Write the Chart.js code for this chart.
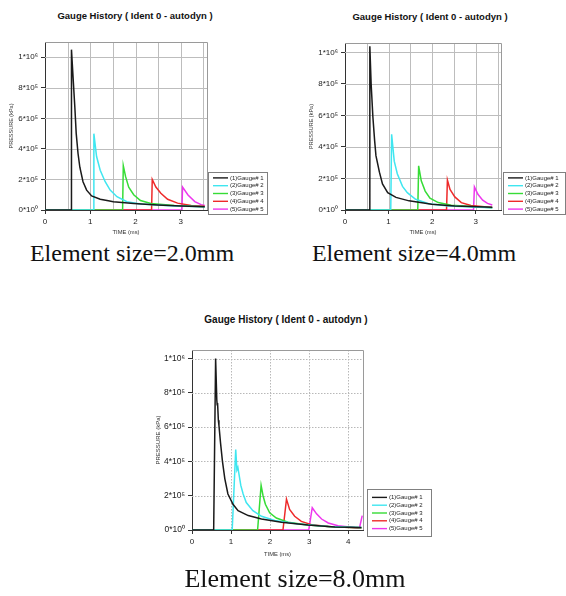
<!DOCTYPE html>
<html>
<head>
<meta charset="utf-8">
<script src="https://cdn.jsdelivr.net/npm/chart.js@4.4.1/dist/chart.umd.min.js"></script>
<style>
body { margin: 0; background: #fff; width: 566px; height: 596px; position: relative; overflow: hidden; }
canvas { position: absolute; }
.ttl { position: absolute; width: 300px; text-align: center; white-space: nowrap; line-height: 1;
       font: bold 9.5px "Liberation Sans", Arial, sans-serif; color: #111; }
.cap { position: absolute; width: 300px; text-align: center; white-space: nowrap; line-height: 1;
       font-family: "Liberation Serif", "Times New Roman", serif; color: #111; }
</style>
</head>
<body>
<div class="ttl" style="left:-15px; top:10px;">Gauge History ( Ident 0 - autodyn )</div>
<div class="ttl" style="left:280px; top:11px;">Gauge History ( Ident 0 - autodyn )</div>
<div class="ttl" style="left:136px; top:314px; font-size:10px;">Gauge History ( Ident 0 - autodyn )</div>

<canvas id="c2mm" width="283" height="210" style="left:0; top:30px;"></canvas>
<canvas id="c4mm" width="266" height="210" style="left:300px; top:30px;"></canvas>
<canvas id="c8mm" width="290" height="235" style="left:147px; top:330px;"></canvas>

<div class="cap" style="left:-18px; top:241px; font-size:24px;">Element size=2.0mm</div>
<div class="cap" style="left:264px; top:241px; font-size:24px;">Element size=4.0mm</div>
<div class="cap" style="left:145px; top:566px; font-size:26px;">Element size=8.0mm</div>

<script>
// gauge histories, [time (ms), pressure (kPa)]
const gauge1_2mm = [[0,0],[0.575,0],[0.585,1.05e6],[0.62,0.87e6],[0.66,0.67e6],[0.69,0.50e6],[0.73,0.37e6],[0.77,0.28e6],[0.84,0.185e6],[0.92,0.13e6],[1.03,0.092e6],[1.22,0.07e6],[1.40,0.06e6],[1.51,0.054e6],[1.96,0.043e6],[2.49,0.033e6],[3.0,0.026e6],[3.53,0.022e6]];
const gauge2_2mm = [[0,0],[1.065,0],[1.08,0.50e6],[1.14,0.35e6],[1.22,0.26e6],[1.33,0.185e6],[1.44,0.13e6],[1.59,0.087e6],[1.81,0.054e6],[2.11,0.04e6],[2.86,0.026e6],[3.53,0.022e6]];
const gauge3_2mm = [[0,0],[1.715,0],[1.73,0.29e6],[1.78,0.22e6],[1.85,0.15e6],[1.96,0.10e6],[2.11,0.062e6],[2.34,0.043e6],[2.86,0.03e6],[3.53,0.022e6]];
const gauge4_2mm = [[0,0],[2.355,0],[2.37,0.20e6],[2.45,0.15e6],[2.56,0.11e6],[2.71,0.07e6],[2.93,0.045e6],[3.23,0.03e6],[3.53,0.025e6]];
const gauge5_2mm = [[0,0],[3.025,0],[3.04,0.15e6],[3.16,0.098e6],[3.31,0.055e6],[3.45,0.035e6],[3.53,0.03e6]];

const gauge1_4mm = [[0,0],[0.555,0],[0.57,1.04e6],[0.60,0.80e6],[0.64,0.59e6],[0.68,0.44e6],[0.71,0.345e6],[0.79,0.24e6],[0.86,0.165e6],[0.98,0.11e6],[1.17,0.08e6],[1.47,0.058e6],[1.99,0.036e6],[2.52,0.026e6],[3.05,0.02e6],[3.38,0.018e6]];
const gauge2_4mm = [[0,0],[1.05,0],[1.07,0.48e6],[1.13,0.31e6],[1.20,0.23e6],[1.32,0.15e6],[1.43,0.11e6],[1.62,0.068e6],[1.92,0.04e6],[2.37,0.026e6],[3.38,0.015e6]];
const gauge3_4mm = [[0,0],[1.67,0],[1.69,0.28e6],[1.75,0.185e6],[1.84,0.12e6],[1.95,0.075e6],[2.14,0.047e6],[2.44,0.03e6],[3.38,0.015e6]];
const gauge4_4mm = [[0,0],[2.33,0],[2.35,0.19e6],[2.41,0.13e6],[2.52,0.083e6],[2.67,0.047e6],[2.89,0.028e6],[3.38,0.016e6]];
const gauge5_4mm = [[0,0],[2.95,0],[2.97,0.147e6],[3.05,0.10e6],[3.16,0.062e6],[3.27,0.042e6],[3.38,0.032e6]];

const gauge1_8mm = [[0,0],[0.555,0],[0.605,1.0e6],[0.635,0.76e6],[0.645,0.73e6],[0.655,0.74e6],[0.675,0.64e6],[0.69,0.61e6],[0.73,0.51e6],[0.78,0.40e6],[0.84,0.30e6],[0.92,0.21e6],[1.05,0.15e6],[1.18,0.113e6],[1.44,0.084e6],[1.78,0.064e6],[2.29,0.045e6],[2.97,0.029e6],[3.66,0.018e6],[4.34,0.014e6]];
const gauge2_8mm = [[0,0],[1.03,0],[1.12,0.47e6],[1.15,0.35e6],[1.175,0.365e6],[1.25,0.26e6],[1.31,0.21e6],[1.39,0.16e6],[1.56,0.113e6],[1.78,0.08e6],[2.12,0.055e6],[2.72,0.035e6],[3.49,0.021e6],[4.34,0.014e6]];
const gauge3_8mm = [[0,0],[1.68,0],[1.77,0.26e6],[1.82,0.20e6],[1.88,0.15e6],[1.99,0.10e6],[2.16,0.07e6],[2.46,0.045e6],[2.97,0.029e6],[3.66,0.018e6],[4.34,0.013e6]];
const gauge4_8mm = [[0,0],[2.33,0],[2.42,0.18e6],[2.50,0.12e6],[2.63,0.08e6],[2.80,0.05e6],[3.06,0.031e6],[3.49,0.021e6],[4.34,0.012e6]];
const gauge5_8mm = [[0,0],[2.99,0],[3.08,0.13e6],[3.19,0.094e6],[3.32,0.064e6],[3.49,0.041e6],[3.74,0.025e6],[4.09,0.016e6],[4.26,0.01e6],[4.29,0.012e6],[4.36,0.084e6]];

const gaugeLabels = ['(1)Gauge# 1', '(2)Gauge# 2', '(3)Gauge# 3', '(4)Gauge# 4', '(5)Gauge# 5'];
const xTickLabels = ['0', '1', '2', '3', '4'];
const yTickValues = [0, 2e5, 4e5, 6e5, 8e5, 1e6];
const yTickLabels = ['0*10⁰', '2*10⁵', '4*10⁵', '6*10⁵', '8*10⁵', '1*10⁶'];

const gaugeColors = ['#1a1a1a', '#3fe6f0', '#36dc36', '#ee2a2a', '#ee36ee'];

Chart.defaults.font.family = '"Liberation Sans", Arial, sans-serif';

// grid behind the curves, plot frame (top/right) and the boxed legend at the lower right
const gaugeFrame = {
    id: 'gaugeFrame',
    beforeDatasetsDraw(chart, args, o) {
        const ctx = chart.ctx;
        const a = chart.chartArea;
        const sx = chart.scales.x, sy = chart.scales.y;
        ctx.save();
        ctx.strokeStyle = o.gridColor;
        ctx.lineWidth = 1;
        if (o.dash) ctx.setLineDash(o.dash);
        ctx.beginPath();
        sx.ticks.forEach(t => {
            if (t.value === 0) return;
            const px = Math.round(sx.getPixelForValue(t.value)) + 0.5;
            ctx.moveTo(px, a.top);
            ctx.lineTo(px, a.bottom);
        });
        sy.ticks.forEach(t => {
            if (t.value === 0) return;
            const py = Math.round(sy.getPixelForValue(t.value)) + 0.5;
            ctx.moveTo(a.left, py);
            ctx.lineTo(a.right, py);
        });
        ctx.stroke();
        ctx.restore();
    },
    afterDraw(chart, args, o) {
        const ctx = chart.ctx;
        const a = chart.chartArea;
        ctx.save();
        ctx.strokeStyle = '#9a9a9a';
        ctx.lineWidth = 1;
        ctx.beginPath();
        ctx.moveTo(a.left, a.top + 0.5);
        ctx.lineTo(a.right + 0.5, a.top + 0.5);
        ctx.lineTo(a.right + 0.5, a.bottom);
        ctx.stroke();

        const L = o.legend;
        const x0 = Math.round(a.right + L.dx), y0 = Math.round(a.bottom + L.dy);
        ctx.fillStyle = '#fff';
        ctx.fillRect(x0, y0, L.w, L.h);
        ctx.strokeStyle = '#808080';
        ctx.strokeRect(x0 + 0.5, y0 + 0.5, L.w - 1, L.h - 1);
        const n = chart.data.datasets.length;
        const first = y0 + (L.h - L.row * (n - 1)) / 2;
        ctx.font = L.font + 'px "Liberation Sans", Arial, sans-serif';
        ctx.textBaseline = 'middle';
        chart.data.datasets.forEach((ds, i) => {
            const y = first + i * L.row;
            ctx.strokeStyle = ds.borderColor;
            ctx.lineWidth = 1.4;
            ctx.beginPath();
            ctx.moveTo(x0 + 5, y);
            ctx.lineTo(x0 + 20, y);
            ctx.stroke();
            ctx.fillStyle = '#222';
            ctx.fillText(ds.label, x0 + 22, y);
        });
        ctx.restore();
    }
};

function gaugeChart(id, series, opt) {
    const datasets = series.map((pts, i) => ({
        label: gaugeLabels[i],
        data: pts.map(p => ({x: p[0], y: p[1]})),
        borderColor: gaugeColors[i],
        borderWidth: 1.5,
        pointRadius: 0,
        tension: 0,
        fill: false
    }));

    // time grid every xStep ms; only whole milliseconds get a label
    const xGrid = [];
    for (let k = 0; k * opt.xStep <= opt.xMax; k++) xGrid.push(k * opt.xStep);

    return new Chart(document.getElementById(id), {
        type: 'line',
        data: {datasets: datasets},
        options: {
            responsive: false,
            animation: false,
            events: [],
            layout: {padding: opt.pad},
            plugins: {
                legend: {display: false},
                tooltip: {enabled: false},
                gaugeFrame: {legend: opt.legend, gridColor: opt.gridColor, dash: opt.dash}
            },
            scales: {
                x: {
                    type: 'linear',
                    min: 0,
                    max: opt.xMax,
                    afterBuildTicks: s => { s.ticks = xGrid.map(v => ({value: v})); },
                    afterFit: s => { s.height = opt.xAxisH; },
                    ticks: {
                        autoSkip: false,
                        maxRotation: 0,
                        padding: 3,
                        color: '#222',
                        font: {size: 8},
                        callback: v => Number.isInteger(v) ? xTickLabels[v] : ''
                    },
                    grid: {
                        drawOnChartArea: false,
                        tickLength: 4,
                        tickColor: c => Number.isInteger(c.tick.value) ? '#333' : 'rgba(0,0,0,0)'
                    },
                    border: {color: '#333', width: 1},
                    title: {
                        display: true,
                        text: 'TIME (ms)',
                        color: '#333',
                        font: {size: 5.8},
                        padding: {top: 0, bottom: opt.xTitlePad}
                    }
                },
                y: {
                    min: 0,
                    max: opt.yMax,
                    afterBuildTicks: s => { s.ticks = yTickValues.map(v => ({value: v})); },
                    afterFit: s => { s.width = 45; },
                    ticks: {
                        padding: 3,
                        color: '#222',
                        font: {size: opt.yFont},
                        callback: (v, i) => yTickLabels[i]
                    },
                    grid: {drawOnChartArea: false, tickLength: 4, tickColor: '#333'},
                    border: {color: '#333', width: 1},
                    title: {
                        display: true,
                        text: 'PRESSURE (kPa)',
                        color: '#333',
                        font: {size: opt.yTitleFont},
                        padding: {top: 7.7, bottom: 0}
                    }
                }
            }
        },
        plugins: [gaugeFrame]
    });
}

gaugeChart('c2mm', [gauge1_2mm, gauge2_2mm, gauge3_2mm, gauge4_2mm, gauge5_2mm], {
    pad: {top: 12, right: 76, left: 0, bottom: 0},
    xMax: 3.58, yMax: 1.1e6, xStep: 0.5, xAxisH: 30, xTitlePad: 4.5,
    yFont: 8, yTitleFont: 5.5, gridColor: '#bdbdbd',
    legend: {dx: 1, dy: -38, w: 60, h: 43, row: 7.8, font: 6}
});

gaugeChart('c4mm', [gauge1_4mm, gauge2_4mm, gauge3_4mm, gauge4_4mm, gauge5_4mm], {
    pad: {top: 13, right: 65, left: 0, bottom: 0},
    xMax: 3.58, yMax: 1.06e6, xStep: 0.5, xAxisH: 30, xTitlePad: 4.5,
    yFont: 8, yTitleFont: 5.5, gridColor: '#bdbdbd',
    legend: {dx: 2, dy: -38, w: 63, h: 43, row: 7.8, font: 6}
});

gaugeChart('c8mm', [gauge1_8mm, gauge2_8mm, gauge3_8mm, gauge4_8mm, gauge5_8mm], {
    pad: {top: 20, right: 74, left: 0, bottom: 0},
    xMax: 4.38, yMax: 1.05e6, xStep: 1, xAxisH: 35, xTitlePad: 7.5,
    yFont: 8.5, yTitleFont: 6, gridColor: '#b8b8b8', dash: [1.5, 1.5],
    legend: {dx: 4, dy: -41, w: 65, h: 48, row: 7.8, font: 6}
});
</script>
</body>
</html>
